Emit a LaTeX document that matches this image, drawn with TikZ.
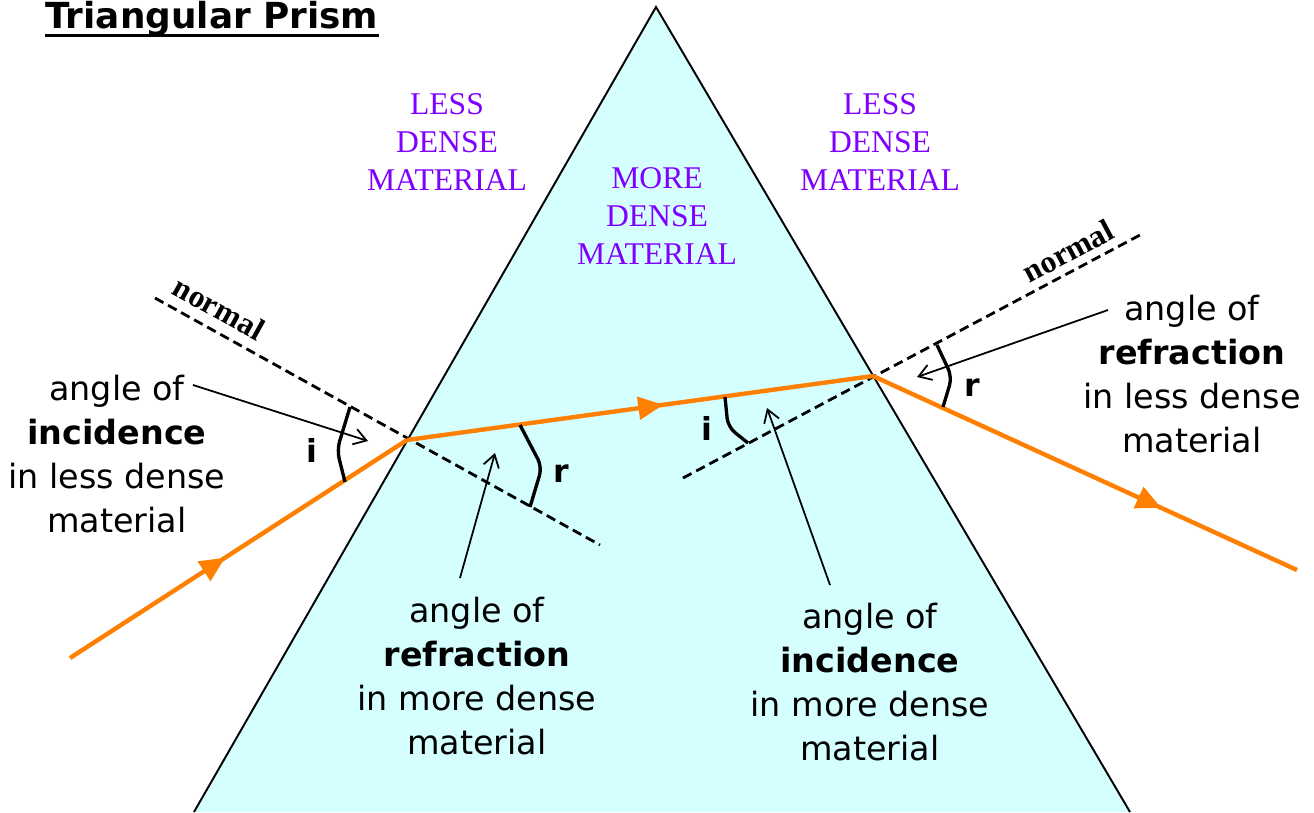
\documentclass[tikz,border=0pt]{standalone}
\usepackage{fontspec}
\setmainfont{DejaVu Sans}
\newfontfamily\timesfont{Liberation Serif}
\definecolor{rayorange}{RGB}{255,128,0}
\definecolor{glass}{RGB}{213,255,255}
\definecolor{densepurple}{RGB}{128,0,255}
\usetikzlibrary{arrows.meta,decorations.markings}

\begin{document}
\begin{tikzpicture}[x=0.02cm,y=-0.02cm,
  edge/.style={black,line width=1.1pt},
  normalline/.style={black,line width=1.6pt,dash pattern=on 5.5pt off 3pt},
  ray/.style={rayorange,line width=2.5pt},
  raymark/.style={postaction={decorate,decoration={markings,
      mark=at position #1 with {\arrow[rayorange]{Triangle[length=0.5cm,width=0.45cm]}}}}},
  anglemark/.style={black,line width=1.9pt,rounded corners=5pt},
  pointer/.style={black,line width=1pt,-{Straight Barb[length=7pt,width=9pt]}},
  note/.style={align=center,inner sep=0pt,font=\fontsize{19}{25}\selectfont},
  medium/.style={align=center,inner sep=0pt,text=densepurple,font=\timesfont\fontsize{18}{21.5}\selectfont},
  normaltag/.style={inner sep=0pt,font=\timesfont\bfseries\fontsize{18}{20}\selectfont},
  letter/.style={inner sep=0pt,font=\bfseries\fontsize{18}{20}\selectfont}]
  \useasboundingbox (0,0) rectangle (1314,812);

  %% Prism
  \coordinate (apex) at (656,7);
  \coordinate (baseL) at (194,812);
  \coordinate (baseR) at (1130,812);
  \fill[glass] (apex) -- (baseR) -- (baseL) -- cycle;
  \draw[edge] (baseL) -- (apex) -- (baseR);

  %% Title
  \node[anchor=base west,inner sep=0pt,font=\bfseries\fontsize{20.4}{24}\selectfont]
        (title) at (45,28) {Triangular Prism};
  \draw[line width=1.7pt] ([yshift=-4.5pt]title.base west) -- ([yshift=-4.5pt]title.base east);

  %% Normals
  \coordinate (nL1) at (155,298);
  \coordinate (nL2) at (600,545);
  \coordinate (nR1) at (683,478);
  \coordinate (nR2) at (1140,235);
  \draw[normalline] (nL1) -- (nL2);
  \draw[normalline] (nR1) -- (nR2);
  \node[normaltag,rotate=-29] (normL) at (219,308) {normal};
  \node[normaltag,rotate=28] (normR) at (1068,251) {normal};

  %% Light ray
  \coordinate (src) at (70,658);
  \coordinate (hitL) at (407,440);
  \coordinate (hitR) at (873,376);
  \coordinate (dst) at (1297,570);
  \draw[ray,raymark=0.46] (src) -- (hitL);
  \draw[ray,raymark=0.55] (hitL) -- (hitR);
  \draw[ray,raymark=0.68] (hitR) -- (dst);

  %% Angle marks
  \draw[anglemark] (350,407) -- (337,450) -- (345,482);
  \draw[anglemark] (520,425) -- (542,467) -- (530,507);
  \draw[anglemark] (725,397) -- (728,427) -- (748,443);
  \draw[anglemark] (937,345) -- (952,377) -- (943,407);
  \node[letter] (iL) at (312,450) {i};
  \node[letter] (rL) at (561,474) {r};
  \node[letter] (iR) at (707,428) {i};
  \node[letter] (rR) at (972,388) {r};

  %% Materials
  \node[medium] (lessL) at (447,142) {LESS\\DENSE\\MATERIAL};
  \node[medium] (more) at (657,216) {MORE\\DENSE\\MATERIAL};
  \node[medium] (lessR) at (880,142) {LESS\\DENSE\\MATERIAL};

  %% Angle labels
  \node[note] (incL) at (117,454) {angle of\\\textbf{incidence}\\in less dense\\material};
  \node[note] (refL) at (477,676) {angle of\\\textbf{refraction}\\in more dense\\material};
  \node[note] (incR) at (870,682) {angle of\\\textbf{incidence}\\in more dense\\material};
  \node[note] (refR) at (1192,374) {angle of\\\textbf{refraction}\\in less dense\\material};

  %% Pointers
  \coordinate (pA) at (193,385);  \coordinate (qA) at (368,441);
  \coordinate (pB) at (460,578);  \coordinate (qB) at (495,453);
  \coordinate (pC) at (830,585);  \coordinate (qC) at (767,408);
  \coordinate (pD) at (1108,310); \coordinate (qD) at (917,377);
  \draw[pointer] (pA) -- (qA);
  \draw[pointer] (pB) -- (qB);
  \draw[pointer] (pC) -- (qC);
  \draw[pointer] (pD) -- (qD);
\end{tikzpicture}
\end{document}
